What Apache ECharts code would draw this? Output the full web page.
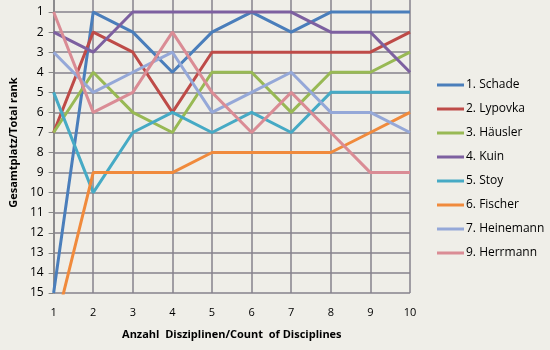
<!DOCTYPE html>
<html><head><meta charset="utf-8">
<script src="https://cdn.jsdelivr.net/npm/echarts@6/dist/echarts.min.js"></script>
<style>html,body{margin:0;padding:0;background:#efeee8;overflow:hidden}#c{position:absolute;left:0;top:-8px;width:550px;height:358px}</style>
</head><body><div id="c"></div>
<script>
const disciplines = [1,2,3,4,5,6,7,8,9,10];
const names = ['1. Schade','2. Lypovka','3. Häusler','4. Kuin','5. Stoy','6. Fischer','7. Heinemann','9. Herrmann'];
const schade    = [15,1,2,4,2,1,2,1,1,1];
const lypovka   = [7,2,3,6,3,3,3,3,3,2];
const haeusler  = [7,4,6,7,4,4,6,4,4,3];
const kuin      = [2,3,1,1,1,1,1,2,2,4];
const stoy      = [5,10,7,6,7,6,7,5,5,5];
const fischer   = [17,9,9,9,8,8,8,8,7,6];
const heinemann = [3,5,4,3,6,5,4,6,6,7];
const herrmann  = [1,6,5,2,5,7,5,7,9,9];
const allSeries = [schade,lypovka,haeusler,kuin,stoy,fischer,heinemann,herrmann];
const colors = ['#4a7ebb','#be4b48','#98b954','#7d60a0','#46aac5','#f08a3c','#95a8d8','#da8c95'];

const chart = echarts.init(document.getElementById('c'), null, {renderer:'canvas'});
const font = 'Open Sans';
chart.setOption({
  backgroundColor:'#efeee8',
  animation:false,
  color: colors,
  grid:{left:50, right:140, top:0, bottom:57, containLabel:false},
  legend:{
    orient:'vertical', left:437, top:86, padding:0, itemGap:10, itemWidth:27, itemHeight:3,
    icon:'rect', data:names,
    textStyle:{fontFamily:font, fontSize:12, color:'#000', padding:[0,0,0,-3], lineHeight:14}
  },
  xAxis:{
    type:'value', min:1, max:10, interval:1,
    name:'Anzahl  Disziplinen/Count  of Disciplines', nameLocation:'middle', nameGap:36,
    nameTextStyle:{fontFamily:font, fontSize:11, fontWeight:'bold', color:'#000'},
    axisLine:{show:true, lineStyle:{color:'#868686', width:1.5}},
    axisTick:{show:true, length:5, lineStyle:{color:'#868686'}},
    axisLabel:{fontFamily:font, fontSize:11, color:'#000', margin:14},
    splitLine:{show:true, lineStyle:{color:'#86828c', width:1.5}}
  },
  yAxis:{
    type:'value', min:0, max:15, interval:1, inverse:true,
    name:'Gesamtplatz/Total rank', nameLocation:'middle', nameGap:32,
    nameTextStyle:{fontFamily:font, fontSize:11, fontWeight:'bold', color:'#000'},
    axisLine:{show:true, lineStyle:{color:'#868686', width:1.5}},
    axisTick:{show:true, length:5, lineStyle:{color:'#868686'}},
    axisLabel:{fontFamily:font, fontSize:12, color:'#000', margin:10,
      formatter:v=> v===0 ? '' : String(v)},
    splitLine:{show:true, lineStyle:{color:'#86828c', width:1.5}}
  },
  series: allSeries.map((d,i)=>({
    name:names[i], type:'line', clip:true, symbol:'none',
    data: d.map((v,j)=>[disciplines[j], v]),
    lineStyle:{width:3, color:colors[i]}, itemStyle:{color:colors[i]}
  }))
});
</script></body></html>
